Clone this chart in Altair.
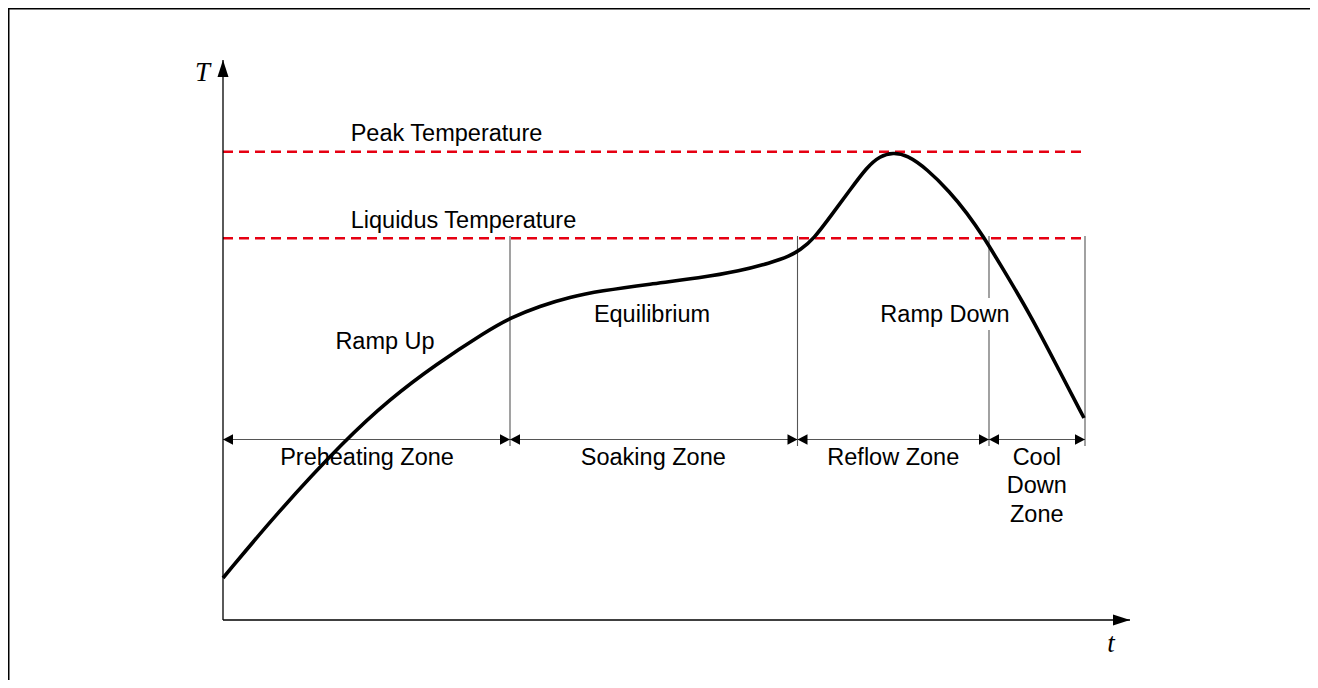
import altair as alt
import pandas as pd

# ---- data (diagram units: t = time, T = temperature; origin at axes crossing) ----
curve_t = [0, 54, 122, 167, 212, 264, 287, 317, 347, 377, 427, 477, 517, 547, 567,
           577, 590, 610, 627, 644, 657, 670, 684, 704, 727, 744, 760, 777, 807,
           837, 861]
curve_T = [42, 107, 180, 221, 255, 289, 302, 314, 323, 329, 336, 342, 349, 357, 364,
           370, 380, 407, 430, 453, 464, 467.5, 465, 451, 428, 407, 384, 356, 306,
           248, 202]

ref_names = ["Peak Temperature", "Liquidus Temperature"]
ref_T = [468.3, 381.7]
ref_t_end = 858.7
ref_label_t = [127.7, 127.7]
ref_label_T = [479, 391.7]

zone_start = [0, 287, 574.5, 766]
zone_end = [287, 574.5, 766, 862]
zone_names = ["Preheating Zone", "Soaking Zone", "Reflow Zone", "Cool\nDown\nZone"]
zone_label_t = [144, 430.3, 670.3, 813.8]
zone_label_T = [155, 155, 155, 155]
zone_arrow_T = 180.5

# boundary guide segments (t, T low, T high)
seg_t = [287, 574.5, 766, 766, 862]
seg_lo = [174, 174, 174, 322, 174]
seg_hi = [384, 384, 290, 384, 384]

phase_names = ["Ramp Up", "Equilibrium", "Ramp Down"]
phase_t = [162, 429, 722]
phase_T = [270.7, 298.3, 298.3]

axis_t_end = 907
axis_T_end = 560

# ---- scales ----
xs = alt.Scale(domain=[-215, 1087], nice=False, zero=False)
ys = alt.Scale(domain=[-60, 612], nice=False, zero=False)

def X(f):
    return alt.X(f, type="quantitative", scale=xs, axis=None)

def Y(f):
    return alt.Y(f, type="quantitative", scale=ys, axis=None)

FONT = "Liberation Sans"
FS = 23.5

# frame (left and top edges)
frame_df = pd.DataFrame({"k": [0]})
frame_left = alt.Chart(frame_df).mark_rule(color="black", strokeWidth=1.5).encode(
    x=alt.value(0.75), y=alt.value(0), y2=alt.value(680))
frame_top = alt.Chart(frame_df).mark_rule(color="black", strokeWidth=1.5).encode(
    x=alt.value(0), x2=alt.value(1310), y=alt.value(0.75))

# axes
ax_df = pd.DataFrame({"t0": [0], "t1": [axis_t_end], "T0": [0], "T1": [axis_T_end]})
x_axis = alt.Chart(ax_df).mark_rule(color="black", strokeWidth=1.3).encode(
    x=X("t0"), x2="t1", y=Y("T0"))
y_axis = alt.Chart(ax_df).mark_rule(color="black", strokeWidth=1.3).encode(
    x=X("t0"), y=Y("T0"), y2="T1")
x_head = alt.Chart(ax_df).mark_point(
    shape="M-1,-0.65L1,0L-1,0.65Z", size=289, filled=True, color="black",
    opacity=1, strokeWidth=0, xOffset=-8.5).encode(x=X("t1"), y=Y("T0"))
y_head = alt.Chart(ax_df).mark_point(
    shape="M-0.65,1L0,-1L0.65,1Z", size=289, filled=True, color="black",
    opacity=1, strokeWidth=0, yOffset=8.5).encode(x=X("t0"), y=Y("T1"))

axis_lbl_df = pd.DataFrame({"lbl": ["T", "t"], "t": [-20.5, 888], "T": [539.3, -31.7]})
axis_labels = alt.Chart(axis_lbl_df).mark_text(
    font="Liberation Serif", fontStyle="italic", fontSize=27, align="center",
    baseline="alphabetic", color="black").encode(x=X("t"), y=Y("T"), text="lbl:N")

# reference temperature lines
ref_df = pd.DataFrame({"name": ref_names, "T": ref_T, "t0": [0, 0],
                       "t1": [ref_t_end] * 2, "lt": ref_label_t, "lT": ref_label_T})
ref_lines = alt.Chart(ref_df).mark_rule(
    color="#e60012", strokeWidth=2.6, strokeDash=[10, 6]).encode(
    x=X("t0"), x2="t1", y=Y("T"))
ref_text = alt.Chart(ref_df).mark_text(
    font=FONT, fontSize=FS, align="left", baseline="alphabetic", color="black").encode(
    x=X("lt"), y=Y("lT"), text="name:N")

# zone boundary guides
seg_df = pd.DataFrame({"t": seg_t, "lo": seg_lo, "hi": seg_hi})
seg_lines = alt.Chart(seg_df).mark_rule(color="#555555", strokeWidth=1.1).encode(
    x=X("t"), y=Y("lo"), y2="hi")

# zone span arrows
zone_df = pd.DataFrame({"s": zone_start, "e": zone_end, "name": zone_names,
                        "lt": zone_label_t, "lT": zone_label_T,
                        "aT": [zone_arrow_T] * 4})
zone_rule = alt.Chart(zone_df).mark_rule(color="#555555", strokeWidth=1.1).encode(
    x=X("s"), x2="e", y=Y("aT"))
head_left = alt.Chart(zone_df).mark_point(
    shape="M1,-1.05L-1,0L1,1.05Z", size=100, filled=True, color="black",
    opacity=1, strokeWidth=0, xOffset=5).encode(x=X("s"), y=Y("aT"))
head_right = alt.Chart(zone_df).mark_point(
    shape="M-1,-1.05L1,0L-1,1.05Z", size=100, filled=True, color="black",
    opacity=1, strokeWidth=0, xOffset=-5).encode(x=X("e"), y=Y("aT"))
zone_text = alt.Chart(zone_df).mark_text(
    font=FONT, fontSize=FS, align="center", baseline="alphabetic", color="black",
    lineBreak="\n", lineHeight=28.3).encode(x=X("lt"), y=Y("lT"), text="name:N")

# phase labels
phase_df = pd.DataFrame({"name": phase_names, "t": phase_t, "T": phase_T})
phase_text = alt.Chart(phase_df).mark_text(
    font=FONT, fontSize=FS, align="center", baseline="alphabetic", color="black").encode(
    x=X("t"), y=Y("T"), text="name:N")

# temperature profile curve
curve_df = pd.DataFrame({"t": curve_t, "T": curve_T})
curve = alt.Chart(curve_df).mark_line(
    color="black", strokeWidth=3.6, interpolate="basis", strokeCap="butt").encode(
    x=X("t"), y=Y("T"))

chart = alt.layer(
    frame_left, frame_top, ref_lines, seg_lines, zone_rule, x_axis, y_axis,
    curve, x_head, y_head, head_left, head_right, ref_text, zone_text,
    phase_text, axis_labels
).properties(
    width=1302, height=672, padding=0, autosize=alt.AutoSizeParams(type="none"),
    background="white"
).configure_view(stroke=None)

chart.save("out.html", embed_options={"renderer": "svg", "actions": False})
